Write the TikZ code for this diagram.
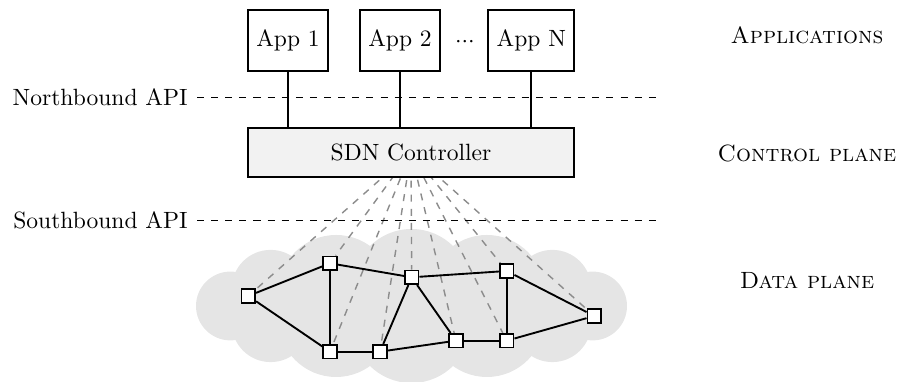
\documentclass[tikz,border=0pt]{standalone}
\pgfdeclarelayer{cloudlayer}
\pgfdeclarelayer{linklayer}
\pgfsetlayers{cloudlayer,linklayer,main}
\begin{document}
\begin{tikzpicture}[x=0.425pt, y=-0.425pt,
  appbox/.style={draw, thick, minimum height=26pt, inner xsep=3.6pt},
  ctrlbox/.style={draw, thick, fill=black!5, minimum width=138.8pt, minimum height=21pt},
  switch/.style={draw, thick, fill=white, minimum size=5.8pt, inner sep=0pt},
  link/.style={thick},
  ctrllink/.style={dashed, black!45, semithick},
  apiline/.style={dashed, semithick},
  apilabel/.style={anchor=east, inner xsep=3.8pt, inner ysep=0pt},
  planelabel/.style={anchor=base, inner sep=0pt},
  cloudfill/.style={fill=black!10}]
\useasboundingbox (0,0) rectangle (898,382);

% applications
\node[appbox] (app1) at (288,40.8) {App 1};
\node[appbox] (app2) at (400,40.8) {App 2};
\node[appbox] (appn) at (531.3,40.8) {App N};
\node[anchor=base, inner sep=0pt] (dots) at (465,47.5) {${\cdot}{\cdot}{\cdot}$};

% controller
\node[ctrlbox] (ctrl) at (411,152.3) {SDN Controller};
\foreach \a in {app1,app2,appn}
  \draw[link] (\a.south) -- (\a.south |- ctrl.north);

% API boundaries
\node[apilabel] (nblab) at (197,97.7) {Northbound API};
\node[apilabel] (sblab) at (197,220.7) {Southbound API};
\coordinate (nbR) at (657,97.7);
\coordinate (sbR) at (657,220.7);
\draw[apiline] (nblab.east) -- (nbR);
\draw[apiline] (sblab.east) -- (sbR);

% plane labels
\node[planelabel] (applab) at (807,43.5) {\textsc{Applications}};
\node[planelabel] (ctrllab) at (807,162) {\textsc{Control plane}};
\node[planelabel] (datalab) at (807,288.5) {\textsc{Data plane}};

% data plane cloud: twelve puffs around a filled core
\begin{pgfonlayer}{cloudlayer}
  \fill[cloudfill] (587.5,272) -- (531.5,256) -- (453,246) -- (370,246)
    -- (291.5,256) -- (235.5,272) -- (235.5,340) -- (291.5,356)
    -- (370,366) -- (453,366) -- (531.5,356) -- (587.5,340) -- cycle;
  \foreach \cx/\cy/\r in {592.6/306/34.4, 552.4/288.8/38.9, 486.9/292.8/57.8,
      411.5/288.15/59.15, 336.1/292.8/57.8, 270.6/288.8/38.9, 230.4/306/34.4,
      270.6/323.2/38.9, 336.1/319.2/57.8, 411.5/323.85/59.15,
      486.9/319.2/57.8, 552.4/323.2/38.9}
    \fill[cloudfill] (\cx,\cy) circle[radius=\r*0.425pt];
\end{pgfonlayer}

% switches
\node[switch] (n1) at (248.3,296) {};
\node[switch] (n2) at (330,263.3) {};
\node[switch] (n3) at (411.7,277.3) {};
\node[switch] (n4) at (506.7,271) {};
\node[switch] (n5) at (594.3,316) {};
\node[switch] (n6) at (330,351.7) {};
\node[switch] (n7) at (380,351.7) {};
\node[switch] (n8) at (456,340.7) {};
\node[switch] (n9) at (506.7,340.7) {};

\begin{pgfonlayer}{linklayer}
  \foreach \n in {n1,n2,n3,n4,n5,n6,n7,n8,n9}
    \draw[ctrllink] (ctrl.center) -- (\n);
  \foreach \u/\v in {n1/n2,n1/n6,n2/n6,n2/n3,n3/n4,n3/n7,n3/n8,n4/n9,n4/n5,n6/n7,n7/n8,n8/n9,n9/n5}
    \draw[link] (\u) -- (\v);
\end{pgfonlayer}
\end{tikzpicture}
\end{document}
